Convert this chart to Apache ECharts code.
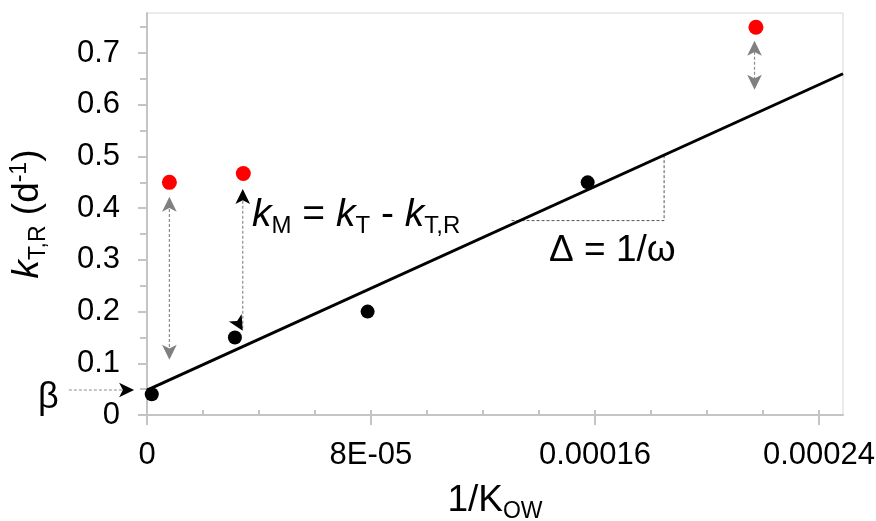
<!DOCTYPE html>
<html>
<head>
<meta charset="utf-8">
<script src="https://cdn.jsdelivr.net/npm/echarts@6/dist/echarts.min.js"></script>
<style>html,body{margin:0;padding:0;background:#fff;}#c{width:876px;height:521px;}</style>
</head>
<body>
<div id="c"></div>
<script>
// ---- data ----
const blackX = [1.7e-6, 3.14e-5, 7.88e-5, 1.574e-4];
const blackY = [0.040, 0.150, 0.200, 0.450];
const redX = [8.0e-6, 3.44e-5, 2.175e-4];
const redY = [0.450, 0.467, 0.750];
const fitX = [0, 2.486e-4];
const fitY = [0.048, 0.660];
const xTicks = [0, 8e-5, 1.6e-4, 2.4e-4];
const xTickLabels = ['0', '8E-05', '0.00016', '0.00024'];
const xMinorTicks = [0, 2e-5, 4e-5, 6e-5, 8e-5, 1e-4, 1.2e-4, 1.4e-4, 1.6e-4, 1.8e-4, 2e-4, 2.2e-4, 2.4e-4];
const yTicks = [0, 0.1, 0.2, 0.3, 0.4, 0.5, 0.6, 0.7];
const yTickLabels = ['0', '0.1', '0.2', '0.3', '0.4', '0.5', '0.6', '0.7'];
const yMinorTicks = [0.05, 0.15, 0.25, 0.35, 0.45, 0.55, 0.65, 0.75];
const xMax = 2.486e-4;
const yMax = 0.7775;
// double-headed dotted arrows
const arrowX = [8.0e-6, 3.42e-5, 2.17e-4];
const arrowLineTop = [0.408, 0.424, 0.712];
const arrowLineBot = [0.116, 0.168, 0.641];
const arrowHeadUp = [0.422, 0.437, 0.724];
const arrowHeadDown = [0.107, 0.163, 0.629];
const arrowDownRotate = [180, 210, 180];
const arrowColors = ['#808080', '#000000', '#808080'];
// beta arrow
const betaLineX = [-2.79e-5, -6.0e-6];
const betaY = 0.0484;
const betaHeadX = -4.6e-6;
// slope triangle
const triX = [1.302e-4, 1.847e-4, 1.847e-4];
const triY = [0.376, 0.376, 0.503];

const FONT = '"Liberation Sans", Arial, sans-serif';
const chart = echarts.init(document.getElementById('c'), null, {renderer: 'canvas'});

const axisGray = '#c4c4c4';
const series = [];
arrowX.forEach((x, i) => {
  series.push({
    type: 'line', symbol: 'none', silent: true,
    data: [[x, arrowLineTop[i]], [x, arrowLineBot[i]]],
    lineStyle: {color: '#8c8c8c', width: 1.2, type: [3, 2]}, z: 3
  });
  series.push({
    type: 'scatter', symbol: 'arrow', symbolSize: [11, 15], silent: true,
    data: [{value: [x, arrowHeadUp[i]], symbolRotate: 0}, {value: [x, arrowHeadDown[i]], symbolRotate: arrowDownRotate[i]}],
    itemStyle: {color: arrowColors[i], opacity: 1}, z: 4
  });
});
series.push({
  type: 'scatter', symbol: 'arrow', symbolSize: [11, 15], symbolRotate: -90, clip: false, silent: true,
  data: [[betaHeadX, betaY]], itemStyle: {color: '#000', opacity: 1}, z: 4
});
series.push({
  type: 'line', symbol: 'none', silent: true,
  data: triX.map((x, i) => [x, triY[i]]),
  lineStyle: {color: '#555', width: 1, type: [3, 2]}, z: 2
});
series.push({
  type: 'line', symbol: 'none', silent: true,
  data: fitX.map((x, i) => [x, fitY[i]]),
  lineStyle: {color: '#000', width: 3}, z: 5
});
series.push({
  type: 'scatter', symbolSize: 14, silent: true,
  data: blackX.map((x, i) => [x, blackY[i]]), itemStyle: {color: '#000', opacity: 1}, z: 6
});
series.push({
  type: 'scatter', symbolSize: 15, silent: true,
  data: redX.map((x, i) => [x, redY[i]]), itemStyle: {color: '#ff0000', opacity: 1}, z: 6
});

const richMain = {
  k: {fontFamily: FONT, fontSize: 37, fontStyle: 'italic', lineHeight: 44, color: '#000'},
  n: {fontFamily: FONT, fontSize: 37, lineHeight: 44, color: '#000'},
  sub: {fontFamily: FONT, fontSize: 23, lineHeight: 23, padding: [22, 0, 0, 0], color: '#000'},
  sup: {fontFamily: FONT, fontSize: 23, lineHeight: 23, padding: [0, 0, 16, 0], color: '#000'}
};
const richEq = {
  k: {fontFamily: FONT, fontSize: 39, fontStyle: 'italic', lineHeight: 46, color: '#000'},
  n: {fontFamily: FONT, fontSize: 39, lineHeight: 46, color: '#000'},
  sub: {fontFamily: FONT, fontSize: 24, lineHeight: 24, padding: [22, 0, 0, 0], color: '#000'}
};
const textGraphics = [
  {type: 'text', left: 252, top: 192, z: 10, style: {text: '{k|k}{sub|M}{n| = }{k|k}{sub|T}{n| - }{k|k}{sub|T,R}', rich: richEq}},
  {type: 'text', left: 549, top: 232, z: 10, style: {text: 'Δ = 1/ω', font: '37px ' + FONT, fill: '#000'}},
  {type: 'text', left: 38, top: 380, z: 10, style: {text: 'β', font: '36px ' + FONT, fill: '#000'}}
];

chart.setOption({
  animation: false,
  backgroundColor: '#fff',
  grid: {left: 147, right: 33, top: 13, bottom: 106, outerBoundsMode: 'none', containLabel: false,
    show: true, borderColor: '#d6d6d6', borderWidth: 1, backgroundColor: 'transparent'},
  xAxis: [{
    type: 'value', min: 0, max: xMax, position: 'bottom',
    name: '{n|1/K}{sub|OW}', nameLocation: 'middle', nameGap: 64,
    nameTextStyle: {rich: richMain},
    axisLine: {show: true, onZero: false, lineStyle: {color: axisGray, width: 2}},
    axisTick: {show: true, inside: false, length: 10, customValues: xTicks, lineStyle: {color: axisGray, width: 2}},
    axisLabel: {show: true, customValues: xTicks, margin: 25, fontFamily: FONT, fontSize: 31, color: '#000',
      formatter: v => { const i = xTicks.findIndex(t => Math.abs(t - v) < 1e-10); return i >= 0 ? xTickLabels[i] : ''; }},
    splitLine: {show: false}
  }, {
    type: 'value', min: 0, max: xMax, position: 'bottom',
    axisLine: {show: false},
    axisTick: {show: true, inside: true, length: 5, customValues: xMinorTicks, lineStyle: {color: axisGray, width: 2}},
    axisLabel: {show: false}, splitLine: {show: false}
  }],
  yAxis: [{
    type: 'value', min: 0, max: yMax, position: 'left',
    name: '{k|k}{sub|T,R}{n| (d}{sup|-1}{n|)}', nameLocation: 'middle', nameRotate: 90, nameGap: 97,
    nameTextStyle: {rich: richMain},
    axisLine: {show: true, onZero: false, lineStyle: {color: axisGray, width: 2}},
    axisTick: {show: true, inside: false, length: 9, customValues: yTicks, lineStyle: {color: axisGray, width: 2}},
    axisLabel: {show: true, customValues: yTicks, margin: 27, fontFamily: FONT, fontSize: 31, color: '#000',
      formatter: v => { const i = yTicks.findIndex(t => Math.abs(t - v) < 1e-9); return i >= 0 ? yTickLabels[i] : ''; }},
    splitLine: {show: false}
  }, {
    type: 'value', min: 0, max: yMax, position: 'left',
    axisLine: {show: false},
    axisTick: {show: true, inside: false, length: 7, customValues: yMinorTicks, lineStyle: {color: axisGray, width: 2}},
    axisLabel: {show: false}, splitLine: {show: false}
  }],
  series: series,
  graphic: textGraphics
});

// beta dotted guide line, positioned through the chart's own scale
const p0 = chart.convertToPixel({gridIndex: 0}, [betaLineX[0], betaY]);
const p1 = chart.convertToPixel({gridIndex: 0}, [betaLineX[1], betaY]);
chart.setOption({
  graphic: textGraphics.concat([
    {type: 'line', z: 3, shape: {x1: p0[0], y1: p0[1], x2: p1[0], y2: p1[1]},
      style: {stroke: '#8c8c8c', lineWidth: 1.2, lineDash: [3, 2]}}
  ])
});
</script>
</body>
</html>
